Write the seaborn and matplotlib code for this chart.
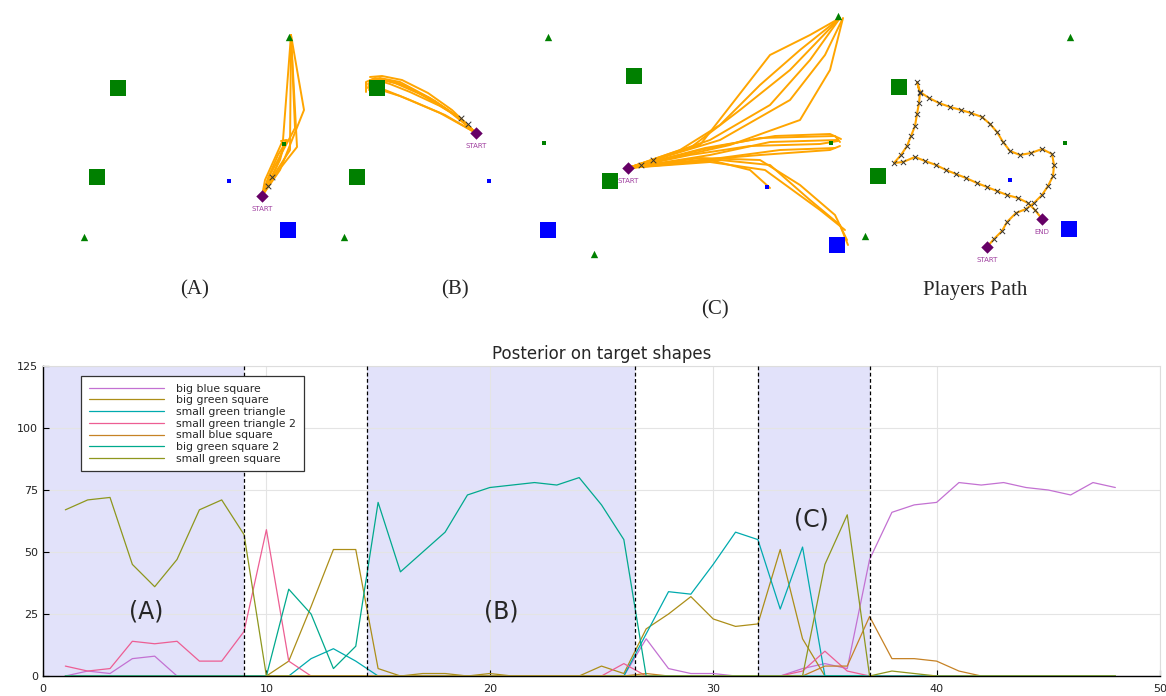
import numpy as np
import pandas as pd
import matplotlib
matplotlib.use("Agg")
import matplotlib.pyplot as plt
import seaborn as sns

# ---- posterior data (time step 1..48) ----
steps = list(range(1, 49))
big_blue_square = [0, 2, 1, 7, 8, 0, 0, 0, 0, 0,
                   0, 0, 0, 0, 0, 0, 0, 0, 0, 0,
                   0, 0, 0, 0, 0, 0, 15, 3, 1, 1,
                   0, 0, 0, 3, 5, 3, 47, 66, 69, 70,
                   78, 77, 78, 76, 75, 73, 78, 76]
big_green_square = [0, 0, 0, 0, 0, 0, 0, 0, 0, 0,
                    6, 28, 51, 51, 3, 0, 1, 1, 0, 1,
                    0, 0, 0, 0, 4, 1, 19, 25, 32, 23,
                    20, 21, 51, 15, 0, 0, 0, 0, 0, 0,
                    0, 0, 0, 0, 0, 0, 0, 0]
small_green_triangle = [0, 0, 0, 0, 0, 0, 0, 0, 0, 0,
                        0, 7, 11, 6, 0, 0, 0, 0, 0, 0,
                        0, 0, 0, 0, 0, 0, 17, 34, 33, 45,
                        58, 55, 27, 52, 0, 0, 0, 0, 0, 0,
                        0, 0, 0, 0, 0, 0, 0, 0]
small_green_triangle_2 = [4, 2, 3, 14, 13, 14, 6, 6, 18, 59,
                          6, 0, 0, 0, 0, 0, 0, 0, 0, 0,
                          0, 0, 0, 0, 0, 5, 0, 0, 0, 0,
                          0, 0, 0, 2, 10, 2, 0, 0, 0, 0,
                          0, 0, 0, 0, 0, 0, 0, 0]
small_blue_square = [0, 0, 0, 0, 0, 0, 0, 0, 0, 0,
                     0, 0, 0, 0, 0, 0, 0, 0, 0, 0,
                     0, 0, 0, 0, 0, 0, 1, 0, 0, 0,
                     0, 0, 0, 0, 4, 4, 24, 7, 7, 6,
                     2, 0, 0, 0, 0, 0, 0, 0]
big_green_square_2 = [0, 0, 0, 0, 0, 0, 0, 0, 0, 0,
                      35, 25, 3, 12, 70, 42, 50, 58, 73, 76,
                      77, 78, 77, 80, 69, 55, 0, 0, 0, 0,
                      0, 0, 0, 0, 0, 0, 0, 0, 0, 0,
                      0, 0, 0, 0, 0, 0, 0, 0]
small_green_square = [67, 71, 72, 45, 36, 47, 67, 71, 57, 0,
                      0, 0, 0, 0, 0, 0, 0, 0, 0, 0,
                      0, 0, 0, 0, 0, 0, 0, 0, 0, 0,
                      0, 0, 0, 0, 45, 65, 0, 2, 1, 0,
                      0, 0, 0, 0, 0, 0, 0, 0]

shape_names = ["big blue square", "big green square", "small green triangle",
               "small green triangle 2", "small blue square", "big green square 2",
               "small green square"]
shape_colors = ["#c371d2", "#ac8e18", "#00aaae", "#ed5e93", "#c68225", "#00a98d", "#8e971d"]

phase_spans = [(0, 9), (14.5, 26.5), (32, 37)]
phase_lines = [9, 14.5, 26.5, 32, 37]
phase_labels = ["(A)", "(B)", "(C)"]
phase_label_pos = [(4.6, 26), (20.5, 26), (34.4, 63)]

# ---- scene layout (pixel coords of the top strip) ----
big_green_sq = [(118, 88), (97, 177), (377, 88), (357, 177), (634, 76), (610, 181), (899, 87), (878, 176)]
small_green_sq = [(284, 144), (544, 143), (831, 143), (1065, 143)]
big_blue_sq = [(288, 230), (548, 230), (837, 245), (1069, 229)]
small_blue_sq = [(229, 181), (489, 181), (767, 187), (1010, 180)]
green_tri = [(289, 37), (84, 237), (548, 37), (344, 237), (838, 16), (594, 254), (865, 236), (1070, 37)]
start_pts = [(262, 196), (476, 133), (628, 168), (987, 247)]
end_pts = [(1042, 219)]
obs_marks = [(268, 186), (272, 177), (461, 118), (468, 124), (641, 165), (653, 160)]
panel_titles = ["(A)", "(B)", "(C)", "Players Path"]
panel_title_pos = [(195, 290), (455, 290), (715, 310), (975, 290)]

paths_a = [
    [(262, 196), (270, 180), (280, 160), (284, 145)],
    [(262, 196), (268, 178), (278, 155), (287, 140)],
    [(262, 196), (272, 178), (290, 150), (291, 35)],
    [(262, 196), (275, 175), (297, 147), (291, 35)],
    [(262, 196), (280, 170), (304, 110), (291, 35)],
    [(262, 196), (265, 180), (283, 140), (291, 35)],
    [(262, 196), (270, 175), (295, 128), (291, 35)],
    [(262, 196), (276, 168), (286, 140), (281, 141)],
]
paths_b = [
    [(476, 133), (455, 115), (430, 98), (400, 82), (380, 78), (370, 80), (368, 88)],
    [(476, 133), (458, 117), (435, 101), (405, 86), (385, 80), (372, 82), (369, 90)],
    [(476, 133), (450, 112), (425, 96), (398, 83), (378, 79), (368, 84)],
    [(476, 133), (460, 118), (440, 106), (410, 92), (390, 84), (377, 80)],
    [(476, 133), (445, 115), (410, 100), (385, 90)],
    [(476, 133), (440, 113), (400, 96), (384, 91)],
    [(476, 133), (462, 120), (445, 108), (420, 94), (395, 83), (375, 78), (366, 82), (366, 92)],
    [(476, 133), (452, 110), (428, 93), (402, 80), (382, 76), (370, 77)],
]
paths_c = [
    [(628, 168), (680, 150), (720, 125), (760, 85), (800, 50), (840, 18)],
    [(628, 168), (690, 148), (740, 110), (790, 70), (840, 18)],
    [(628, 168), (700, 145), (735, 100), (770, 55), (810, 35), (840, 18)],
    [(628, 168), (710, 140), (770, 105), (810, 60), (840, 18)],
    [(628, 168), (720, 140), (790, 100), (825, 55), (842, 20)],
    [(628, 168), (730, 145), (800, 120), (830, 70), (843, 18)],
    [(628, 168), (700, 150), (760, 138), (835, 136), (840, 142)],
    [(628, 168), (710, 155), (770, 142), (838, 140)],
    [(628, 168), (720, 158), (780, 150), (835, 148)],
    [(628, 168), (700, 160), (760, 155), (830, 150), (840, 146)],
    [(628, 168), (690, 155), (750, 146), (820, 144), (838, 141)],
    [(628, 168), (705, 148), (775, 136), (830, 134), (841, 139)],
    [(628, 168), (700, 158), (760, 160), (800, 185), (835, 215), (847, 240)],
    [(628, 168), (720, 160), (770, 165), (810, 200), (840, 225), (848, 245)],
    [(628, 168), (710, 162), (765, 170), (820, 210), (845, 230)],
    [(628, 168), (710, 160), (750, 170), (770, 188)],
]
player_path = [(987, 247), (994, 239), (1002, 231), (1007, 222), (1016, 213), (1026, 209),
               (1034, 203), (1042, 195), (1048, 186), (1053, 176), (1054, 165), (1052, 154),
               (1042, 149), (1031, 153), (1020, 155), (1010, 151), (1003, 142), (997, 132),
               (990, 124), (982, 117), (971, 113), (961, 110), (950, 107), (939, 103),
               (929, 98), (920, 92), (917, 82), (920, 93), (919, 103), (917, 114),
               (915, 126), (911, 136), (907, 146), (901, 155), (894, 163), (903, 162),
               (915, 157), (925, 161), (936, 165), (946, 170), (956, 174), (966, 178),
               (977, 183), (987, 187), (997, 191), (1007, 195), (1018, 198), (1028, 203),
               (1035, 210), (1042, 219)]

sns.set_style("white")
fig = plt.figure(figsize=(11.66, 6.96), dpi=100)

# ---- top strip: scenes ----
ax_top = fig.add_axes([0, (696 - 335) / 696, 1, 335 / 696])
ax_top.set_xlim(0, 1166)
ax_top.set_ylim(335, 0)
ax_top.axis("off")

orange = "#ffa500"
for path in paths_a + paths_b + paths_c:
    px, py = zip(*path)
    ax_top.plot(px, py, color=orange, lw=1.4, zorder=2)
px, py = zip(*player_path)
ax_top.plot(px, py, color=orange, lw=1.5, zorder=2)
ax_top.scatter(px[1:-1], py[1:-1], marker="x", s=14, color="#333333", linewidths=0.7, zorder=4)
ox, oy = zip(*obs_marks)
ax_top.scatter(ox, oy, marker="x", s=16, color="#333333", linewidths=0.7, zorder=4)

def put(points, marker, size, color):
    xs, ys = zip(*points)
    ax_top.scatter(xs, ys, marker=marker, s=size, color=color, linewidths=0, zorder=3)

put(big_green_sq, "s", 125, "#008000")
put(small_green_sq, "s", 12, "#008000")
put(big_blue_sq, "s", 135, "#0000ff")
put(small_blue_sq, "s", 12, "#0000ff")
put(green_tri, "^", 28, "#008000")
put(start_pts + end_pts, "D", 40, "#660066")
for sx, sy in start_pts:
    ax_top.text(sx, sy + 13, "START", color="#a040a0", fontsize=5, ha="center", va="center")
for ex, ey in end_pts:
    ax_top.text(ex, ey + 13, "END", color="#a040a0", fontsize=5, ha="center", va="center")
for label, (tx, ty) in zip(panel_titles, panel_title_pos):
    ax_top.text(tx, ty, label, fontsize=15, family="Liberation Serif", ha="center", va="center")

# ---- bottom: posterior plot ----
ax = fig.add_axes([43 / 1166, 20 / 696, 1117 / 1166, 310 / 696])
series = [big_blue_square, big_green_square, small_green_triangle, small_green_triangle_2,
          small_blue_square, big_green_square_2, small_green_square]
df = pd.concat([pd.DataFrame({"step": steps, "posterior": vals, "shape": name})
                for name, vals in zip(shape_names, series)], ignore_index=True)

for lo, hi in phase_spans:
    ax.axvspan(lo, hi, color="#e2e2fa", lw=0, zorder=0)
sns.lineplot(data=df, x="step", y="posterior", hue="shape", hue_order=shape_names,
             palette=dict(zip(shape_names, shape_colors)), estimator=None, errorbar=None,
             lw=0.9, ax=ax, zorder=3)
for xv in phase_lines:
    ax.axvline(xv, color="black", ls=(0, (3, 2)), lw=0.9, zorder=4)
for label, (lx, ly) in zip(phase_labels, phase_label_pos):
    ax.text(lx, ly, label, fontsize=17, ha="center", va="center", zorder=5)

ax.set_xlim(0, 50)
ax.set_ylim(0, 125)
ax.set_xticks(range(0, 51, 10))
ax.set_yticks(range(0, 126, 25))
ax.grid(True, color="#e4e4e4", lw=0.8, zorder=1)
ax.set_axisbelow(True)
ax.tick_params(direction="in", length=4, width=0.8, labelsize=8, colors="black",
               labelcolor="#222222", bottom=True, left=True)
ax.tick_params(axis="x", pad=6)
for side in ["left", "bottom"]:
    ax.spines[side].set_color("black")
    ax.spines[side].set_linewidth(1)
for side in ["top", "right"]:
    ax.spines[side].set_color("#dddddd")
    ax.spines[side].set_linewidth(0.8)
ax.set_xlabel("")
ax.set_ylabel("")
ax.set_title("Posterior on target shapes", fontsize=12, pad=5)

handles, labels = ax.get_legend_handles_labels()
leg = ax.legend(handles, labels, loc="upper left", bbox_to_anchor=(0.034, 0.968),
                borderaxespad=0, fontsize=7.8, handlelength=7.0, handletextpad=1.1,
                labelspacing=0.16, frameon=True, fancybox=False, framealpha=1,
                edgecolor="#333333", borderpad=0.7)
leg.get_frame().set_linewidth(0.9)
leg.set_zorder(6)

fig.savefig("out.png", dpi=100)
